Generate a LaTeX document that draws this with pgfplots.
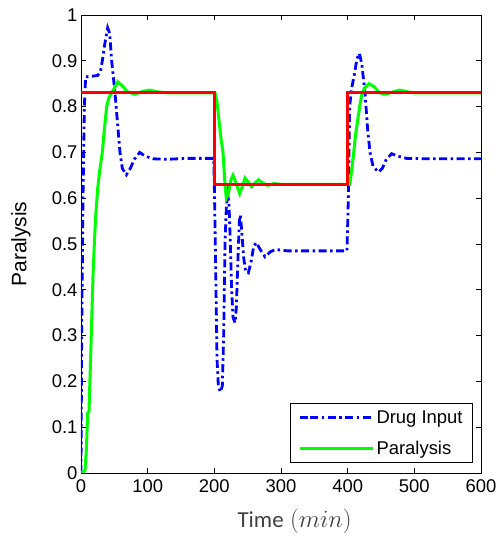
\documentclass[border=0pt]{standalone}
\usepackage{fontspec}
\setmainfont{Liberation Sans}
\newfontfamily\calib{Carlito}
\usepackage{pgfplots}
\pgfplotsset{compat=1.18}

\pgfplotstableread{
t v
0 0
1 0.3
3 0.6
5 0.8
7 0.865
15 0.866
25 0.868
29 0.875
32 0.9
36 0.94
40 0.972
43 0.96
46 0.9
51 0.83
55 0.76
58.5 0.7
62 0.665
68 0.651
74 0.665
80 0.685
88 0.70
96 0.692
108 0.686
130 0.685
160 0.687
199 0.687
200 0.63
202 0.45
204 0.25
206 0.19
209 0.177
212 0.19
214 0.3
216 0.5
218 0.58
220 0.607
222 0.59
224 0.5
226 0.4
228 0.34
231 0.328
233 0.36
235 0.45
237.5 0.55
239 0.563
241 0.53
244 0.47
247 0.44
251 0.437
255 0.46
259 0.495
263 0.503
268 0.49
276 0.472
284 0.483
292 0.488
310 0.485
399 0.485
401 0.6
403 0.8
406 0.84
410 0.87
414 0.905
417.5 0.916
421 0.895
426 0.83
430 0.75
433.5 0.7
438 0.67
446 0.657
452 0.665
458 0.685
466 0.697
475 0.692
488 0.687
520 0.686
600 0.686
}\druginput

\pgfplotstableread{
t v
0 0
6 0.005
8 0.05
10 0.13
12 0.135
14 0.23
16 0.33
18 0.43
20 0.5
22 0.56
25 0.62
28 0.66
32 0.7
35 0.75
38.5 0.8
42 0.82
48 0.835
55 0.854
62 0.845
70 0.832
81 0.827
92 0.833
103 0.836
115 0.832
130 0.83
201 0.83
204 0.81
207 0.77
210 0.73
213 0.70
216 0.63
218 0.60
221 0.61
225 0.64
228 0.65
232 0.635
238 0.61
242 0.625
246 0.644
251 0.635
256 0.625
261 0.633
266 0.64
273 0.633
280 0.628
290 0.632
300 0.63
403 0.63
406 0.66
409 0.70
412 0.74
415 0.77
418 0.80
421 0.825
425 0.84
432 0.85
440 0.843
448 0.83
456 0.827
466 0.831
478 0.836
490 0.832
500 0.83
600 0.83
}\paralysis

\pgfplotstableread{
t v
0 0.83
200 0.83
200 0.63
400 0.63
400 0.83
600 0.83
}\setpoint

\begin{document}
\begin{tikzpicture}
\begin{axis}[
  scale only axis, width=400bp, height=458bp,
  xmin=0, xmax=600, ymin=0, ymax=1,
  xtick={0,100,200,300,400,500,600},
  ytick={0,0.1,0.2,0.3,0.4,0.5,0.6,0.7,0.8,0.9,1},
  tick align=inside, major tick length=5bp,
  axis line style={line width=0.8bp},
  every tick/.style={line width=0.6bp, black},
  /pgf/number format/assume math mode=true,
  tick label style={font=\fontsize{18.5}{22}\selectfont},
  xticklabel style={yshift=-3bp},
  xlabel={{\calib Time} $(min)$},
  xlabel style={font=\fontsize{23}{26}\selectfont, text=black!75,
    at={(rel axis cs:0.534,0)}, anchor=base, yshift=-54bp},
  ylabel={Paralysis},
  ylabel style={font=\fontsize{21}{24}\selectfont,
    at={(rel axis cs:0,0.5)}, anchor=center, yshift=60bp},
  legend style={at={(rel axis cs:0.98,0.022)}, anchor=south east,
    draw=black, line width=0.8bp, font=\fontsize{18.5}{22}\selectfont,
    cells={anchor=west}, row sep=12bp, inner xsep=8bp, inner ysep=5bp},
  legend image code/.code={\path (-10bp,0bp) -- (0bp,0bp);
    \draw[#1] (0bp,0bp) -- (63bp,0bp);},
]
\addplot[blue, line width=2.8bp, dash pattern=on 8bp off 3.5bp on 2.5bp off 3.5bp] table[x=t,y=v] {\druginput};
\addlegendentry{Drug Input}
\addplot[green, line width=3bp] table[x=t,y=v] {\paralysis};
\addlegendentry{Paralysis}
\addplot[red, line width=3bp, forget plot] table[x=t,y=v] {\setpoint};
\coordinate (bl) at (rel axis cs:0,0);
\end{axis}
\pgfresetboundingbox
\path ([shift={(-81bp,-65bp)}]bl) rectangle ++(499bp,538bp);
\end{tikzpicture}
\end{document}
